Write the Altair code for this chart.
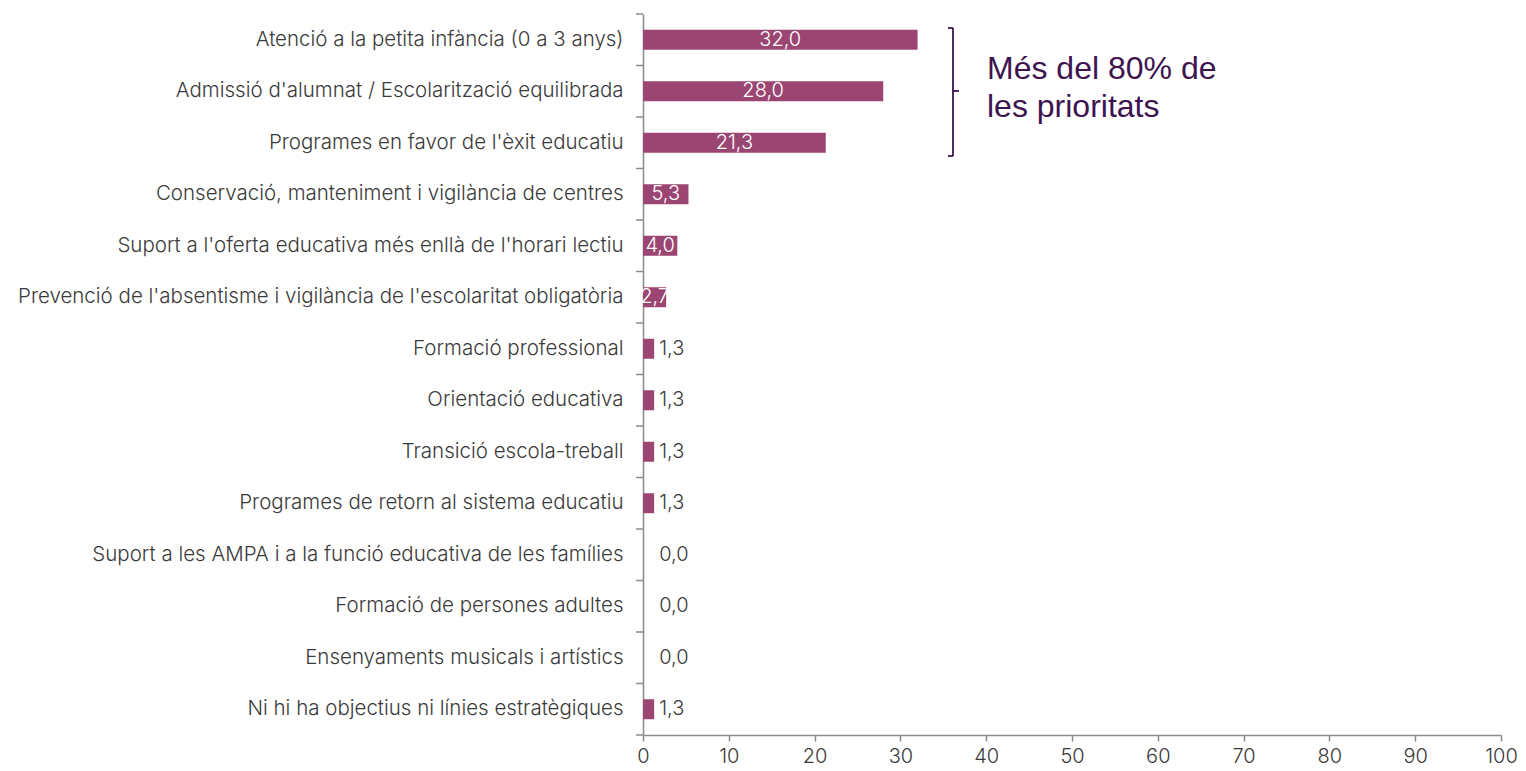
import altair as alt
import pandas as pd

categories = [
    "Atenció a la petita infància (0 a 3 anys)",
    "Admissió d'alumnat / Escolarització equilibrada",
    "Programes en favor de l'èxit educatiu",
    "Conservació, manteniment i vigilància de centres",
    "Suport a l'oferta educativa més enllà de l'horari lectiu",
    "Prevenció de l'absentisme i vigilància de l'escolaritat obligatòria",
    "Formació professional",
    "Orientació educativa",
    "Transició escola-treball",
    "Programes de retorn al sistema educatiu",
    "Suport a les AMPA i a la funció educativa de les famílies",
    "Formació de persones adultes",
    "Ensenyaments musicals i artístics",
    "Ni hi ha objectius ni línies estratègiques",
]
values = [32.0, 28.0, 21.3, 5.3, 4.0, 2.7, 1.3, 1.3, 1.3, 1.3, 0.0, 0.0, 0.0, 1.3]
x_ticks = [0, 10, 20, 30, 40, 50, 60, 70, 80, 90, 100]
note_lines = ["Més del 80% de", "les prioritats"]

df = pd.DataFrame({"cat": categories, "v": values})
df["lab"] = [f"{v:.1f}".replace(".", ",") for v in values]

W, H = 858, 721
FONT = "Inter"
FW = 300
FS = 20
GRAY = "#3a3a3a"
AX = "#8a8a8a"
BAR = "#9b4572"
NOTE = "#3d1350"

ysc = alt.Scale(paddingInner=0, paddingOuter=0)

base = alt.Chart(df)

bars = base.mark_bar(color=BAR, size=20).encode(
    y=alt.Y(
        "cat:N",
        sort=categories,
        title=None,
        scale=ysc,
        axis=alt.Axis(
            ticks=False,
            labelPadding=20,
            labelFontSize=20.5,
            labelColor=GRAY,
            labelFont=FONT,
            labelFontWeight=FW,
            labelLimit=0,
            domainColor=AX,
            domainWidth=1.5,
        ),
    ),
    x=alt.X(
        "v:Q",
        title=None,
        scale=alt.Scale(domain=[0, 100], nice=False),
        axis=alt.Axis(
            values=x_ticks,
            tickSize=6,
            tickColor=AX,
            tickWidth=1.5,
            domainColor=AX,
            domainWidth=1.5,
            labelFontSize=FS,
            labelFont=FONT,
            labelFontWeight=FW,
            labelColor=GRAY,
            labelPadding=5,
            grid=False,
            labelFlush=False,
        ),
    ),
)

yticks = base.mark_rule(color=AX, strokeWidth=1.5).encode(
    y=alt.Y("cat:N", sort=categories, bandPosition=0, scale=ysc),
    x=alt.value(-7),
    x2=alt.value(0),
)
ytick_bottom = alt.Chart(pd.DataFrame({"a": [0]})).mark_rule(color=AX, strokeWidth=1.5).encode(
    y=alt.value(H), x=alt.value(-7), x2=alt.value(0)
)

inside = base.transform_filter("datum.v >= 2").transform_calculate(
    mid="datum.v / 2"
).mark_text(color="white", fontSize=FS, font=FONT, fontWeight=FW).encode(
    y=alt.Y("cat:N", sort=categories, scale=ysc),
    x=alt.X("mid:Q"),
    text="lab:N",
)

outside = base.transform_filter("datum.v < 2").transform_calculate(
    lx="max(datum.v, 1.3)"
).mark_text(color=GRAY, fontSize=FS, font=FONT, fontWeight=FW, align="left", dx=5).encode(
    y=alt.Y("cat:N", sort=categories, scale=ysc),
    x=alt.X("lx:Q"),
    text="lab:N",
)

note = alt.Chart(pd.DataFrame({"t": ["\n".join(note_lines)]})).mark_text(
    color=NOTE, fontSize=32, font="Liberation Sans", align="left", baseline="alphabetic",
    lineBreak="\n", lineHeight=38,
).encode(x=alt.value(344), y=alt.value(65), text="t:N")

one = pd.DataFrame({"a": [0]})
br = dict(color=NOTE, strokeWidth=1.8)
bv = alt.Chart(one).mark_rule(**br).encode(x=alt.value(310), y=alt.value(14), y2=alt.value(142))
bt = alt.Chart(one).mark_rule(**br).encode(x=alt.value(305), x2=alt.value(310), y=alt.value(14))
bb = alt.Chart(one).mark_rule(**br).encode(x=alt.value(305), x2=alt.value(310), y=alt.value(142))
bm = alt.Chart(one).mark_rule(**br).encode(x=alt.value(310), x2=alt.value(316), y=alt.value(77))

chart = alt.layer(bars, yticks, ytick_bottom, inside, outside, note, bv, bt, bb, bm).properties(
    width=W,
    height=H,
    autosize=alt.AutoSizeParams(type="none"),
    padding={"left": 635, "top": 6, "right": 17, "bottom": 28},
).configure_view(stroke=None)

chart.save("out.html", embed_options={"renderer": "svg", "actions": False})
